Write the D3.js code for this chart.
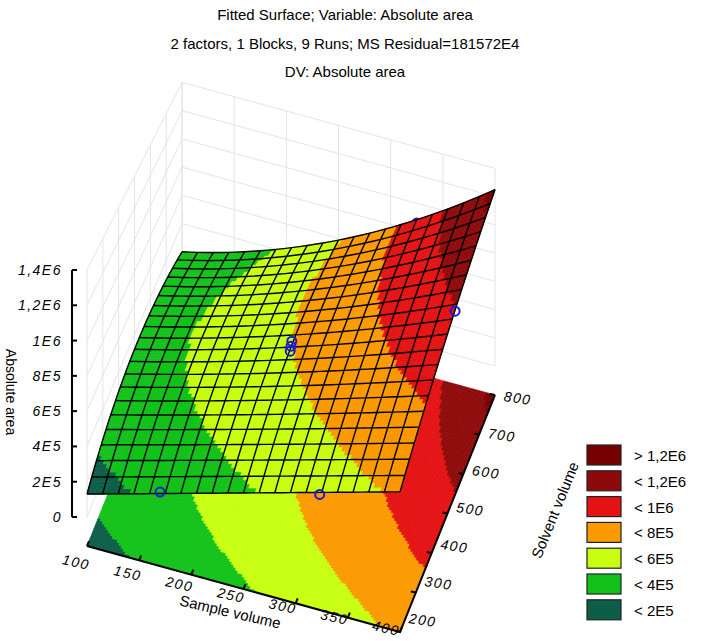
<!DOCTYPE html>
<html>
<head>
<meta charset="utf-8"/>
<script src="https://d3js.org/d3.v7.min.js"></script>
<style>
body{margin:0;background:#fff;}
text{font-family:"Liberation Sans",Arial,sans-serif;}
</style>
</head>
<body>
<svg id="chart" width="709" height="641"></svg>
<script>
// axis ticks
var sampleTicks = [100, 150, 200, 250, 300, 350, 400];
var solventTicks = [200, 300, 400, 500, 600, 700, 800];
var zTicks = [0, 2e5, 4e5, 6e5, 8e5, 1e6, 1.2e6, 1.4e6];
var zLabels = ["0", "2E5", "4E5", "6E5", "8E5", "1E6", "1,2E6", "1,4E6"];
// legend
var legendLabels = ["> 1,2E6", "< 1,2E6", "< 1E6", "< 8E5", "< 6E5", "< 4E5", "< 2E5"];
var legendColors = ["#760000", "#8e0a0a", "#e41212", "#fb9a00", "#c8ff10", "#12c21a", "#0d5e48"];
var breaks = [2e5, 4e5, 6e5, 8e5, 1e6, 1.2e6];
// fitted model, in coded units u,v (0..1): a + b u + c v + d v^2 + h u^2 v^2
var coef = {a: 1.3e5, b: 5.0e5, c: 6.5e5, d: -5.8e5, h: 5.5e5};
// observed runs
var runSample = [170, 323, 250, 250, 250, 400, 325, 160, 100];
var runSolvent = [200, 200, 500, 495, 505, 548, 800, 585, 530];
var runArea = [2.55e5, 4.9e5, 6.0e5, 5.8e5, 6.2e5, 9.9e5, 8.6e5, 7.6e5, 0.6e5];

var titles = ["Fitted Surface; Variable: Absolute area",
  "2 factors, 1 Blocks, 9 Runs; MS Residual=181572E4",
  "DV: Absolute area"];

var svg = d3.select("#chart");
var su = d3.scaleLinear().domain([100, 400]).range([0, 1]);
var sv = d3.scaleLinear().domain([200, 800]).range([0, 1]);
var sz = d3.scaleLinear().domain([0, 1.4e6]).range([0, 247]);
var color = d3.scaleThreshold().domain(breaks).range(legendColors.slice().reverse());

function f(u, v) { return coef.a + coef.b*u + coef.c*v + coef.d*v*v + coef.h*u*u*v*v; }
// projection: u, v in 0..1, z in data units; heights shrink toward the back
function P(u, v, z) { return [87 + 313*u + 95*v, 517 + 86*u - 237*v - sz(z)*(1 - 0.2*v)]; }
function F(u, v) { return [87 + 313*u + 95*v, 546 + 86*u - 237*v]; }

// titles
svg.selectAll(".title").data(titles).enter().append("text")
  .attr("x", 345).attr("y", function(d, i){ return 20 + i*28.5; })
  .attr("text-anchor", "middle").attr("font-size", 15).text(function(d){ return d; });

// faint back walls
var wall = svg.append("g").attr("stroke", "#e4e4e8").attr("fill", "none").attr("stroke-width", 1);
function line(pts){ return d3.line()(pts); }
zTicks.forEach(function(z){
  wall.append("path").attr("d", line([P(0,0,z), P(0,1,z), P(1,1,z)]));
});
sampleTicks.forEach(function(s){
  wall.append("path").attr("d", line([P(su(s),1,0), P(su(s),1,1.4e6)]));
});
solventTicks.forEach(function(s){
  wall.append("path").attr("d", line([P(0,sv(s),0), P(0,sv(s),1.4e6)]));
});

// floor contour
var N = 110, floor = svg.append("g");
for (var i = 0; i < N; i++) for (var j = 0; j < N; j++) {
  var u0 = i/N, u1 = (i+1)/N, v0 = j/N, v1 = (j+1)/N;
  var c = color(f((u0+u1)/2, (v0+v1)/2));
  floor.append("path").attr("d", line([F(u0,v0), F(u1,v0), F(u1,v1), F(u0,v1)]) + "Z")
    .attr("fill", c).attr("stroke", c).attr("stroke-width", 0.6);
}

// runs behind the surface are drawn first
var runs = runSample.map(function(s, k){ return {u: su(s), v: sv(runSolvent[k]), z: runArea[k]}; });
function drawRun(g, r){
  var p = P(r.u, r.v, r.z);
  g.append("circle").attr("cx", p[0]).attr("cy", p[1]).attr("r", 4.5)
    .attr("fill", "none").attr("stroke", "#1a1ad0").attr("stroke-width", 2);
}
drawRun(svg, runs[7]); drawRun(svg, runs[8]); drawRun(svg, runs[6]);

// surface
var M = 80, cells = [];
for (var i = 0; i < M; i++) for (var j = 0; j < M; j++) cells.push([i, j]);
cells.sort(function(a, b){ return (b[1] - 0.6*b[0]) - (a[1] - 0.6*a[0]); });
var surf = svg.append("g");
cells.forEach(function(cl){
  var u0 = cl[0]/M, u1 = (cl[0]+1)/M, v0 = cl[1]/M, v1 = (cl[1]+1)/M;
  var c = color(f((u0+u1)/2, (v0+v1)/2));
  surf.append("path").attr("d", line([P(u0,v0,f(u0,v0)), P(u1,v0,f(u1,v0)), P(u1,v1,f(u1,v1)), P(u0,v1,f(u0,v1))]) + "Z")
    .attr("fill", c).attr("stroke", c).attr("stroke-width", 0.6);
});
var G = 20, grid = svg.append("g").attr("fill", "none").attr("stroke", "#000").attr("stroke-width", 1.4);
for (var k = 0; k <= G; k++) {
  var a = [], b = [];
  for (var t = 0; t <= 40; t++) {
    a.push(P(k/G, t/40, f(k/G, t/40)));
    b.push(P(t/40, k/G, f(t/40, k/G)));
  }
  grid.append("path").attr("d", line(a));
  grid.append("path").attr("d", line(b));
}
[0,1,2,3,4,5].forEach(function(k){ drawRun(svg, runs[k]); });

// axes
var ax = svg.append("g").attr("stroke", "#000").attr("stroke-width", 2).attr("fill", "none");
ax.append("path").attr("d", line([F(0,0), F(1,0), F(1,1)]));
ax.append("path").attr("d", line([[72, 517 - sz(0)], [72, 517 - sz(1.4e6)]]));
var lab = svg.append("g").attr("font-size", 14).attr("letter-spacing", 1.5);
zTicks.forEach(function(z, k){
  var y = 517 - sz(z);
  ax.append("path").attr("d", line([[72, y], [77, y]]));
  lab.append("text").attr("x", 62).attr("y", y + 5).attr("text-anchor", "end")
    .attr("font-style", "italic").text(zLabels[k]);
});
sampleTicks.forEach(function(s){
  var u = su(s), p = F(u, 0);
  ax.append("path").attr("d", line([p, [p[0] + 2, p[1] - 5]]));
  lab.append("text").attr("transform", "translate(" + (75 + 310*u) + "," + (567 + 66*u) + ") rotate(12)")
    .attr("text-anchor", "middle").attr("font-style", "italic").text(s);
});
solventTicks.forEach(function(s){
  var v = sv(s), p = F(1, v);
  ax.append("path").attr("d", line([p, [p[0] - 5, p[1] - 1]]));
  lab.append("text").attr("transform", "translate(" + (422 + 95*v) + "," + (625 - 222*v) + ") rotate(8)")
    .attr("text-anchor", "middle").attr("font-style", "italic").text(s);
});
svg.append("text").attr("transform", "translate(229,617) rotate(13)").attr("text-anchor", "middle")
  .attr("font-size", 15).text("Sample volume");
svg.append("text").attr("transform", "translate(560,512) rotate(-68)").attr("text-anchor", "middle")
  .attr("font-size", 15).text("Solvent volume");
svg.append("text").attr("transform", "translate(6,392) rotate(90)").attr("text-anchor", "middle")
  .attr("font-size", 14).text("Absolute area");

// legend
var lg = svg.append("g").attr("transform", "translate(587,445)");
legendLabels.forEach(function(d, k){
  lg.append("rect").attr("x", 0).attr("y", k*25.8).attr("width", 34).attr("height", 20)
    .attr("fill", legendColors[k]).attr("stroke", "#222").attr("stroke-width", 1.2);
  lg.append("text").attr("x", 47).attr("y", k*25.8 + 16).attr("font-size", 15).text(d);
});
</script>
</body>
</html>
